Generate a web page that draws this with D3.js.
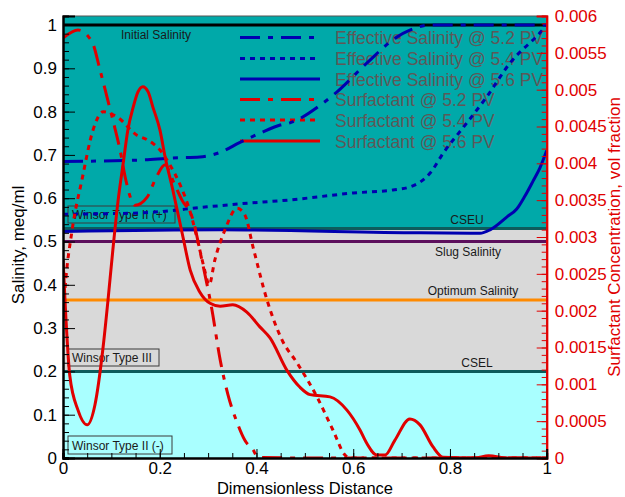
<!DOCTYPE html>
<html><head><meta charset="utf-8">
<script src="https://cdn.jsdelivr.net/npm/d3@7"></script>
<style>html,body{margin:0;padding:0;background:#fff;}svg{display:block;font-family:"Liberation Sans",Arial,sans-serif;}</style>
</head><body><svg id="c" width="625" height="497"></svg>
<script>
// ---------- DATA ----------
const xTicks = [0, 0.2, 0.4, 0.6, 0.8, 1];
const salTicks = [0, 0.1, 0.2, 0.3, 0.4, 0.5, 0.6, 0.7, 0.8, 0.9, 1];
const surfTicks = [0, 0.0005, 0.001, 0.0015, 0.002, 0.0025, 0.003, 0.0035, 0.004, 0.0045, 0.005, 0.0055, 0.006];

const refLines = [
  {name: "Initial Salinity", value: 1.0},
  {name: "CSEU", value: 0.53},
  {name: "Slug Salinity", value: 0.5},
  {name: "Optimum Salinity", value: 0.365},
  {name: "CSEL", value: 0.2}
];
const regionNames = ["Winsor Type II (+)", "Winsor Type III", "Winsor Type II (-)"];

// Effective salinity (meq/ml) vs dimensionless distance
const salX52 = [0, 0.159, 0.227, 0.283, 0.325, 0.366, 0.407, 0.449, 0.469, 0.538, 0.566, 0.628, 0.690, 0.717, 0.760, 0.85, 1.0];
const salY52 = [0.685, 0.688, 0.693, 0.695, 0.706, 0.729, 0.750, 0.769, 0.774, 0.820, 0.845, 0.912, 0.972, 0.988, 1.0, 1.0, 1.0];
const salX54 = [0, 0.159, 0.298, 0.366, 0.469, 0.60, 0.682, 0.717, 0.738, 0.759, 0.786, 0.835, 0.876, 0.924, 0.986, 1.0];
const salY54 = [0.563, 0.566, 0.580, 0.587, 0.596, 0.612, 0.619, 0.626, 0.637, 0.658, 0.704, 0.774, 0.834, 0.912, 0.982, 1.0];
const salX56 = [0, 0.325, 0.738, 0.862, 0.883, 0.918, 0.938, 0.955, 0.972, 0.986, 1.0];
const salY56 = [0.523, 0.527, 0.520, 0.519, 0.527, 0.557, 0.575, 0.605, 0.640, 0.670, 0.710];

// Surfactant concentration (vol fraction)
const surfX52 = [0, 0.031, 0.060, 0.0765, 0.091, 0.103, 0.118, 0.130, 0.149, 0.174, 0.192, 0.211, 0.227, 0.246, 0.267, 0.287, 0.308, 0.325, 0.341, 0.360, 0.376, 0.393, 0.403, 0.5, 0.7, 0.9, 1.0];
const surfY52 = [0.00570, 0.00581, 0.00565, 0.00527, 0.00490, 0.00459, 0.00418, 0.00377, 0.00343, 0.00354, 0.00380, 0.00398, 0.00377, 0.00350, 0.00327, 0.00269, 0.00201, 0.00133, 0.00086, 0.00048, 0.00024, 0.00011, 0.00001, 0, 0, 0, 0];
const surfX54 = [0, 0.004, 0.019, 0.039, 0.062, 0.083, 0.114, 0.153, 0.174, 0.2005, 0.221, 0.242, 0.263, 0.283, 0.294, 0.302, 0.314, 0.335, 0.360, 0.376, 0.393, 0.422, 0.453, 0.484, 0.525, 0.558, 0.583, 0.593, 0.75, 1.0];
const surfY54 = [0.00190, 0.00228, 0.00310, 0.00377, 0.00445, 0.00470, 0.00462, 0.00438, 0.00432, 0.00418, 0.00398, 0.00371, 0.00334, 0.00282, 0.00252, 0.00235, 0.00269, 0.00310, 0.00339, 0.00330, 0.00286, 0.00214, 0.00160, 0.00129, 0.00083, 0.00038, 0.00004, 0, 0, 0];
const surfX56 = [0, 0.006, 0.014, 0.031, 0.050, 0.066, 0.083, 0.093, 0.103, 0.114, 0.124, 0.134, 0.145, 0.155, 0.165, 0.176, 0.186, 0.2005, 0.211, 0.227, 0.248, 0.263, 0.283, 0.304, 0.325, 0.351, 0.380, 0.407, 0.428, 0.463, 0.490, 0.511, 0.552, 0.587, 0.614, 0.628, 0.649, 0.666, 0.686, 0.717, 0.738, 0.765, 0.786, 0.85, 0.88, 0.92, 1.0];
const surfY56 = [0.00270, 0.00190, 0.00112, 0.00065, 0.00045, 0.00072, 0.00151, 0.00214, 0.00282, 0.00350, 0.00398, 0.00445, 0.00476, 0.00497, 0.00504, 0.00497, 0.00476, 0.00445, 0.00409, 0.00364, 0.00300, 0.00255, 0.00225, 0.00210, 0.00206, 0.00208, 0.00198, 0.00178, 0.00163, 0.00119, 0.00096, 0.00086, 0.00083, 0.00065, 0.00038, 0.00020, 0.00004, 0.00004, 0.00024, 0.00053, 0.00045, 0.00015, 0.00001, 0, 0.00003, 0, 0];

const legendLabels = ["Effective Salinity @ 5.2 PV", "Effective Salinity @ 5.4 PV", "Effective Salinity @ 5.6 PV",
                      "Surfactant @ 5.2 PV", "Surfactant @ 5.4 PV", "Surfactant @ 5.6 PV"];

// ---------- LAYOUT ----------
const L = 63, R = 546.7, T = 16, B = 458;
const BLUE = "#0000b0", RED = "#e00000";
const DASHDOT = "20,8,5,8", DOTTED = "5,5";

const svg = d3.select("#c");
const x = d3.scaleLinear().domain([0, 1]).range([L, R]);
const yL = d3.scaleLinear().domain([0, 1.0208]).range([B, T]);
const yR = d3.scaleLinear().domain([0, 0.006]).range([B, T]);

// background regions
const bands = [
  {lo: 0.53, hi: 1.0208, fill: "#00a9a9"},
  {lo: 0.2, hi: 0.53, fill: "#d9d9d9"},
  {lo: 0, hi: 0.2, fill: "#a9ffff"}
];
svg.selectAll("rect.band").data(bands).enter().append("rect")
  .attr("x", L).attr("width", R - L)
  .attr("y", d => yL(d.hi)).attr("height", d => yL(d.lo) - yL(d.hi))
  .attr("fill", d => d.fill);

// reference lines
const refColors = ["#000000", "#0d5c5c", "#5c0f5c", "#ff8a00", "#0d5c5c"];
svg.selectAll("line.ref").data(refLines).enter().append("line")
  .attr("x1", L).attr("x2", R)
  .attr("y1", d => yL(d.value)).attr("y2", d => yL(d.value))
  .attr("stroke", (d, i) => refColors[i]).attr("stroke-width", 3);

// top frame
svg.append("line").attr("x1", L).attr("x2", R).attr("y1", T).attr("y2", T)
  .attr("stroke", "#555").attr("stroke-width", 1);

// ref line labels
const refLabelPos = [[156, 39], [467, 224], [468, 256], [473, 295], [477, 367]];
svg.selectAll("text.ref").data(refLines).enter().append("text")
  .attr("x", (d, i) => refLabelPos[i][0]).attr("y", (d, i) => refLabelPos[i][1])
  .attr("text-anchor", "middle").attr("font-size", 12).attr("fill", "#1a1a1a")
  .text(d => d.name);

// region boxes
const boxPos = [[68, 206, 107, 17], [68, 349, 91, 17], [68, 436, 104, 18]];
regionNames.forEach((name, i) => {
  const [bx, by, bw, bh] = boxPos[i];
  svg.append("rect").attr("x", bx).attr("y", by).attr("width", bw).attr("height", bh)
    .attr("fill", "none").attr("stroke", "#3a3a3a").attr("stroke-width", 1);
  svg.append("text").attr("x", bx + 4).attr("y", by + bh - 4)
    .attr("font-size", 12).attr("fill", "#1a1a1a").text(name);
});

// legend
const legStyles = [
  {c: BLUE, d: DASHDOT}, {c: BLUE, d: DOTTED}, {c: BLUE, d: null},
  {c: RED, d: DASHDOT}, {c: RED, d: DOTTED}, {c: RED, d: null}
];
const legY = [37.5, 58.5, 79, 99.5, 120, 141];
legendLabels.forEach((lab, i) => {
  const ln = svg.append("line").attr("x1", 240).attr("x2", 320)
    .attr("y1", legY[i]).attr("y2", legY[i])
    .attr("stroke", legStyles[i].c).attr("stroke-width", 3);
  if (legStyles[i].d) ln.attr("stroke-dasharray", legStyles[i].d);
  svg.append("text").attr("x", 335).attr("y", legY[i] + 6.5)
    .attr("font-size", 17.5).attr("fill", "#5e5858").text(lab);
});

// curves
svg.append("clipPath").attr("id", "pc").append("rect")
  .attr("x", L).attr("y", T - 2).attr("width", R - L).attr("height", B - T + 2);
const g = svg.append("g").attr("clip-path", "url(#pc)");
function draw(xs, ys, yScale, color, dash) {
  const pts = xs.map((v, i) => [v, ys[i]]);
  const line = d3.line().x(d => x(d[0])).y(d => yScale(d[1])).curve(d3.curveMonotoneX);
  const p = g.append("path").attr("d", line(pts)).attr("fill", "none")
    .attr("stroke", color).attr("stroke-width", 3).attr("stroke-linejoin", "round");
  if (dash) p.attr("stroke-dasharray", dash);
}
draw(salX52, salY52, yL, BLUE, DASHDOT);
draw(salX54, salY54, yL, BLUE, DOTTED);
draw(salX56, salY56, yL, BLUE, null);
draw(surfX52, surfY52, yR, RED, DASHDOT);
draw(surfX54, surfY54, yR, RED, DOTTED);
draw(surfX56, surfY56, yR, RED, null);

// axes
const fmt = d => d === 0 ? "0" : String(+d.toFixed(4));
const FONT = "Liberation Sans, Arial, sans-serif";
// left
const gl = svg.append("g").attr("transform", `translate(${L},0)`);
gl.call(d3.axisLeft(yL).tickValues(d3.range(0, 1.0001, 0.02)).tickSize(-6).tickFormat(""));
gl.call(g2 => g2.append("g").call(d3.axisLeft(yL).tickValues(salTicks).tickSize(-12).tickPadding(6).tickFormat(fmt)));
gl.selectAll("path.domain").attr("stroke", "#000").attr("stroke-width", 2);
gl.selectAll("line").attr("stroke", "#000");
gl.select("g").selectAll(".tick line").attr("stroke-width", 3);
gl.selectAll("text").attr("font-size", 17).attr("fill", "#000").attr("font-family", FONT);
// right
const gr = svg.append("g").attr("transform", `translate(${R},0)`);
gr.call(d3.axisRight(yR).tickValues(d3.range(0, 0.0060001, 0.0001)).tickSize(-5).tickFormat(""));
gr.call(g2 => g2.append("g").call(d3.axisRight(yR).tickValues(surfTicks).tickSize(-10).tickPadding(8).tickFormat(fmt)));
gr.selectAll("path.domain").attr("stroke", RED).attr("stroke-width", 2);
gr.selectAll("line").attr("stroke", RED);
gr.select("g").selectAll(".tick line").attr("stroke-width", 2);
gr.selectAll("text").attr("font-size", 17).attr("fill", RED).attr("font-family", FONT);
// bottom
const gb = svg.append("g").attr("transform", `translate(0,${B})`);
gb.call(d3.axisBottom(x).tickValues(d3.range(0, 1.0001, 0.05)).tickSize(-5).tickFormat(""));
gb.call(g2 => g2.append("g").call(d3.axisBottom(x).tickValues(xTicks).tickSize(-9).tickPadding(4).tickFormat(fmt)));
gb.selectAll("path.domain").attr("stroke", "#000").attr("stroke-width", 2);
gb.selectAll("line").attr("stroke", "#000");
gb.select("g").selectAll(".tick line").attr("stroke-width", 2);
gb.selectAll("text").attr("font-size", 17).attr("fill", "#000").attr("font-family", FONT);

// axis titles
svg.append("text").attr("x", 305).attr("y", 494).attr("text-anchor", "middle")
  .attr("font-size", 16.5).attr("fill", "#000").text("Dimensionless Distance");
svg.append("text").attr("transform", "translate(24,245) rotate(-90)").attr("text-anchor", "middle")
  .attr("font-size", 17).attr("fill", "#000").text("Salinity, meq/ml");
svg.append("text").attr("transform", "translate(620,237) rotate(-90)").attr("text-anchor", "middle")
  .attr("font-size", 17).attr("fill", RED).text("Surfactant Concentration, vol fraction");
</script></body></html>
